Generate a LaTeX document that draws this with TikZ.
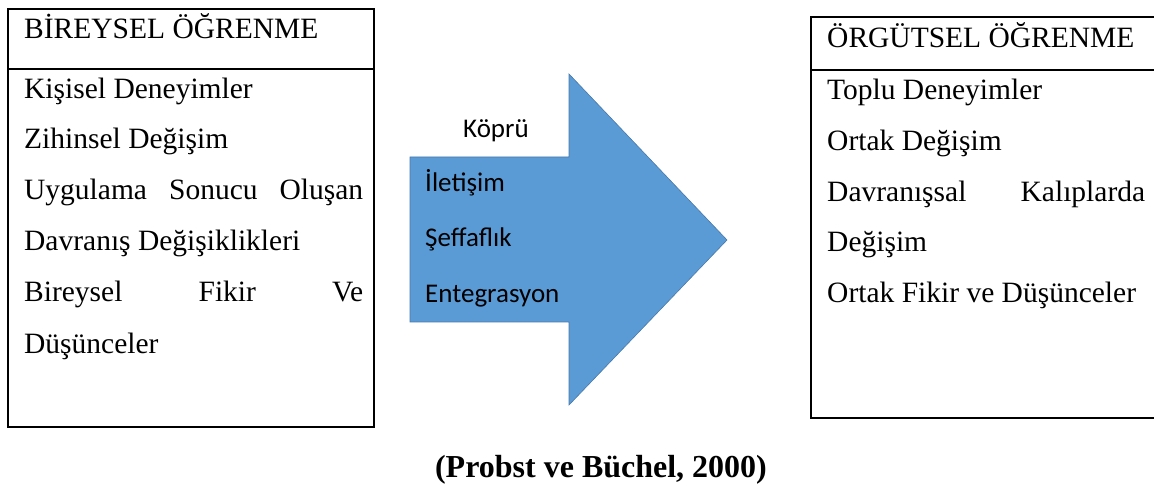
\documentclass[tikz,border=0pt]{standalone}
\usepackage{fontspec}
\setmainfont{Liberation Serif}
\newfontfamily\bridgefont{Carlito}
\usetikzlibrary{positioning}

\definecolor{arrowblue}{RGB}{91,155,213}
\definecolor{arrowedge}{RGB}{70,120,170}

\tikzset{
  boxline/.style={line width=1.2pt,color=black},
  item/.style={anchor=base west,inner sep=0pt,font=\fontsize{29.5}{35}\selectfont},
  bridge/.style={anchor=base west,inner sep=0pt,font=\bridgefont\fontsize{27}{32}\selectfont},
}

\begin{document}
\begin{tikzpicture}[x=1pt,y=-1pt]
\useasboundingbox (0,0) rectangle (1154,486);

% Define the left box.
\draw[boxline] (8,9) rectangle (374,427);
\draw[boxline] (8,69) -- (374,69);

\node[item] (lhead) at (24,39) {BİREYSEL ÖĞRENME};
\node[item] (l1) at (24,99) {Kişisel Deneyimler};
\node[item] (l2) at (24,149) {Zihinsel Değişim};
\node[item] (l3) at (24,200) {\hbox to 339pt{Uygulama\hfill Sonucu\hfill Oluşan}};
\node[item] (l4) at (24,251) {Davranış Değişiklikleri};
\node[item] (l5) at (24,302) {\hbox to 339pt{Bireysel\hfill Fikir\hfill Ve}};
\node[item] (l6) at (24,353) {Düşünceler};

% Define the bridge arrow.
\filldraw[fill=arrowblue,draw=arrowedge,line width=0.6pt]
  (410,157) -- (569,157) -- (569,74) -- (727,240)
  -- (569,405) -- (569,322) -- (410,322) -- cycle;

\node[bridge] (kopru) at (463,138) {Köprü};
\node[bridge] (b1) at (425,192) {İletişim};
\node[bridge] (b2) at (425,247) {Şeffaflık};
\node[bridge] (b3) at (425,303) {Entegrasyon};

% Define the right box.
\draw[boxline] (1158,17) -- (811,17) -- (811,418) -- (1158,418);
\draw[boxline] (811,70) -- (1158,70);

\node[item] (rhead) at (827,48) {ÖRGÜTSEL ÖĞRENME};
\node[item] (r1) at (827,100) {Toplu Deneyimler};
\node[item] (r2) at (827,151) {Ortak Değişim};
\node[item] (r3) at (827,202) {\hbox to 318pt{Davranışsal\hfill Kalıplarda}};
\node[item] (r4) at (827,252) {Değişim};
\node[item] (r5) at (827,303) {Ortak Fikir ve Düşünceler};

\node[anchor=base,inner sep=0pt,font=\bfseries\fontsize{32}{38}\selectfont] (cite) at (601,477) {(Probst ve Büchel, 2000)};

\end{tikzpicture}
\end{document}
